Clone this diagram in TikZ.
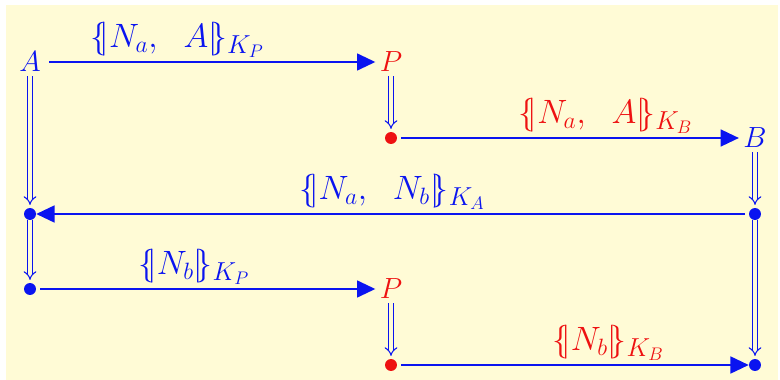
\RequirePackage{fix-cm}
\documentclass[tikz,border=0pt]{standalone}
\usepackage{amsmath,amssymb}
\usepackage{tikz}
\usetikzlibrary{arrows.meta}
\definecolor{paper}{HTML}{FFFBD6}
\definecolor{msgblue}{HTML}{0A14F0}
\definecolor{msgred}{HTML}{EE1111}
\newcommand{\encr}[2]{\{\mskip-4mu|#1|\mskip-4mu\}_{\mbox{\fontsize{18.5}{20}\selectfont$#2$}}}

\begin{document}
\begin{tikzpicture}[font=\huge,
  agent/.style={inner sep=3pt,text=msgblue},
  spy/.style={inner sep=3pt,text=msgred},
  pt/.style={circle,inner sep=0pt,minimum size=8.5pt,fill=msgblue},
  redpt/.style={pt,fill=msgred},
  send/.style={draw=msgblue,line width=1.4pt,shorten <=3pt,-{Triangle[length=13pt,width=12pt]}},
  wait/.style={draw=msgblue,double=paper,double distance=2.4pt,line width=0.75pt,shorten >=2pt,-{Implies}},
  msg/.style={above,inner sep=2.5pt,font=\fontsize{24}{28}\selectfont}]
  \useasboundingbox (0,0) rectangle (19.5,-9.5);
  \fill[paper] (0.15,-0.125) rectangle (19.45,-9.5);
  % principals and states
  \node[agent] (A)  at (0.75,-1.55) {$A$};
  \node[spy]   (P1) at (9.775,-1.55) {$P$};
  \node[redpt] (r1) at (9.775,-3.45) {};
  \node[agent] (B)  at (18.875,-3.45) {$B$};
  \node[pt]    (b1) at (18.875,-5.35) {};
  \node[pt]    (l1) at (0.75,-5.35) {};
  \node[pt]    (l2) at (0.75,-7.225) {};
  \node[spy]   (P2) at (9.775,-7.225) {$P$};
  \node[redpt] (r2) at (9.775,-9.125) {};
  \node[pt]    (b2) at (18.875,-9.125) {};
  % messages
  \draw[send] (A) -- node[msg,pos=.4,text=msgblue] {$\encr{N_a,\ \ A}{K_P}$} (P1);
  \draw[send] (r1) -- node[msg,pos=.61,text=msgred] {$\encr{N_a,\ \ A}{K_B}$} (B);
  \draw[send] (b1) -- node[msg,pos=.5,text=msgblue] {$\encr{N_a,\ \ N_b}{K_A}$} (l1);
  \draw[send] (l2) -- node[msg,pos=.465,text=msgblue] {$\encr{N_b}{K_P}$} (P2);
  \draw[send] (r2) -- node[msg,pos=.6,text=msgred] {$\encr{N_b}{K_B}$} (b2);
  % time flow
  \draw[wait] (A) -- (l1);
  \draw[wait] (l1) -- (l2);
  \draw[wait] (P1) -- (r1);
  \draw[wait] (B) -- (b1);
  \draw[wait] (b1) -- (b2);
  \draw[wait] (P2) -- (r2);
\end{tikzpicture}
\end{document}
